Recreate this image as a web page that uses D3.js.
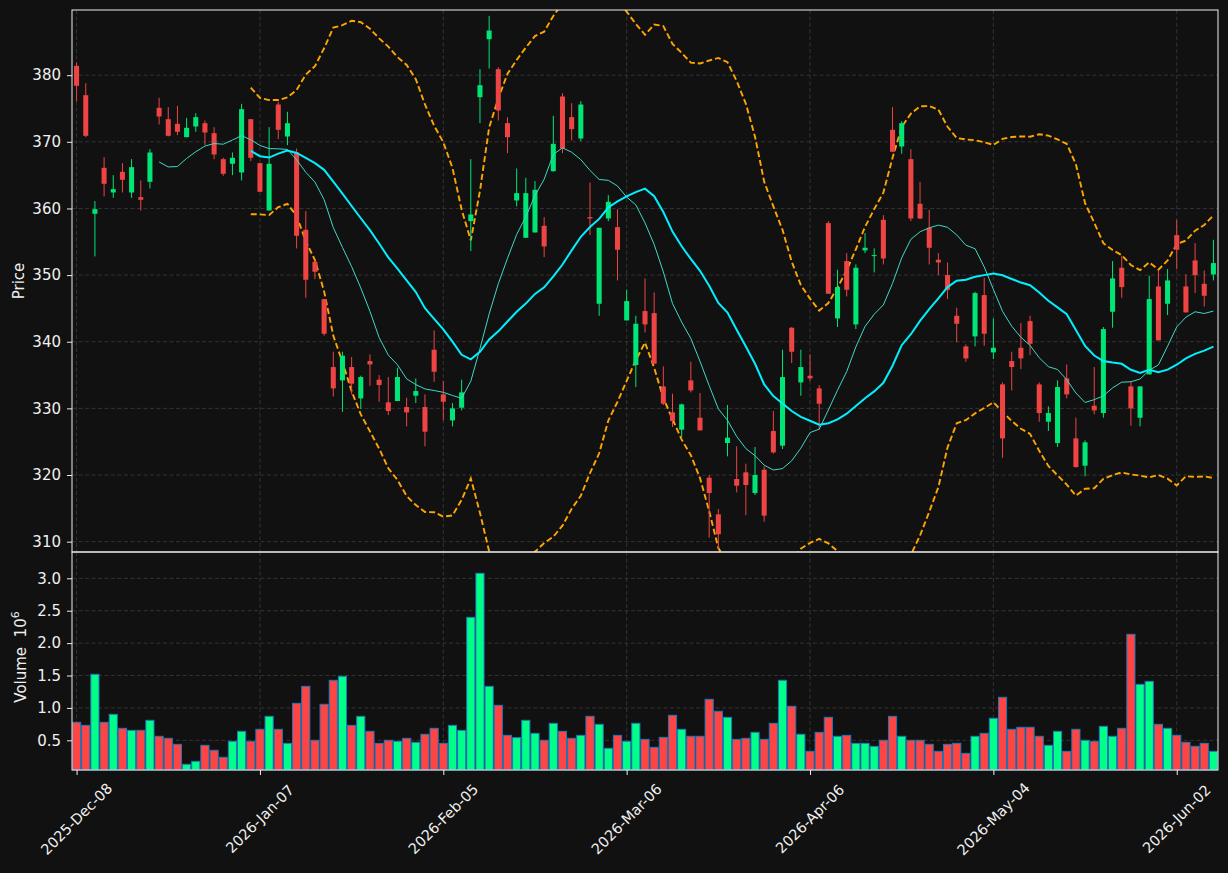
<!DOCTYPE html>
<html>
<head>
<meta charset="utf-8">
<script src="https://cdn.jsdelivr.net/npm/d3@7"></script>
<style>
  html, body { margin: 0; padding: 0; background: #111111; }
  svg { display: block; font-family: "DejaVu Sans", sans-serif; }
</style>
</head>
<body>
<script>
const width = 1228;
const height = 873;
const left = 72;
const right = 1218;
const priceTop = 10;
const priceBottom = 552;
const volBottom = 770;
const textColor = '#f0f0f0';
const gridColor = '#3c3c3c';
const upColor = '#00e676';
const downColor = '#ef4444';
const volUpColor = '#00ff88';
const volDownColor = '#ff4444';
const fontSize = 15;

// OHLC, one entry per trading day (index based x axis)
const opens = [
  381.4, 377.0, 359.2, 366.1, 362.4, 365.5, 362.4, 361.7, 364.0, 375.1,
  373.4, 372.7, 370.7, 372.3, 372.8, 371.3, 367.4, 366.7, 365.4, 373.4,
  366.8, 359.7, 375.6, 370.8, 368.4, 356.8, 352.0, 346.4, 336.2, 334.2,
  336.2, 331.5, 337.1, 334.3, 330.9, 331.1, 330.2, 331.9, 330.2, 338.8,
  332.1, 328.2, 330.1, 358.1, 376.7, 385.4, 380.9, 372.8, 361.2, 355.6,
  356.4, 357.4, 365.6, 376.8, 373.7, 370.5, 358.7, 345.7, 358.5, 357.2,
  343.2, 336.5, 344.6, 344.3, 333.3, 329.4, 326.8, 334.2, 328.6, 319.6,
  314.1, 324.8, 319.4, 320.4, 317.3, 320.8, 326.6, 324.4, 342.1, 333.9,
  334.9, 333.0, 357.8, 343.5, 352.1, 342.6, 353.7, 352.9, 358.3, 371.8,
  369.3, 367.4, 360.7, 357.1, 352.3, 350.0, 343.9, 339.3, 340.8, 347.0,
  338.4, 333.6, 337.1, 339.1, 343.1, 333.6, 328.0, 324.8, 334.5, 325.5,
  321.4, 330.4, 329.3, 344.5, 351.1, 333.3, 328.6, 335.1, 348.3, 345.7,
  356.0, 348.3, 352.2, 348.7, 350.1
];
const highs = [
  381.9, 378.8, 361.1, 367.7, 365.0, 366.8, 367.4, 364.2, 368.9, 376.6,
  375.2, 375.4, 373.6, 374.3, 373.2, 372.2, 367.6, 368.4, 375.7, 373.4,
  366.8, 372.2, 376.0, 374.5, 369.0, 359.6, 352.3, 346.4, 338.5, 338.5,
  337.7, 334.9, 338.1, 335.0, 334.7, 336.1, 331.6, 334.5, 332.1, 341.7,
  334.1, 330.8, 334.3, 367.4, 380.9, 388.9, 381.2, 373.7, 366.0, 364.6,
  364.1, 358.7, 373.9, 377.3, 375.8, 376.1, 363.9, 357.1, 362.0, 359.9,
  347.8, 343.9, 349.5, 347.4, 336.3, 332.2, 330.7, 337.0, 332.3, 320.0,
  314.9, 330.5, 324.3, 321.7, 324.2, 321.3, 329.6, 338.8, 342.2, 338.8,
  338.1, 333.5, 358.1, 350.8, 353.3, 351.6, 356.3, 354.0, 359.0, 375.2,
  373.1, 368.9, 364.0, 359.8, 353.3, 351.9, 345.1, 339.6, 347.5, 349.6,
  343.5, 333.9, 338.5, 342.8, 343.9, 333.9, 330.3, 334.2, 336.6, 328.6,
  325.2, 336.2, 342.2, 352.1, 352.9, 334.0, 333.3, 349.9, 350.7, 350.9,
  358.3, 350.1, 354.8, 350.7, 355.3
];
const lows = [
  376.1, 370.7, 352.8, 361.8, 361.6, 362.4, 361.6, 359.7, 363.0, 372.6,
  370.8, 371.0, 370.7, 371.5, 369.5, 367.4, 364.9, 365.0, 364.2, 367.1,
  362.5, 359.7, 370.4, 369.5, 354.0, 346.6, 349.4, 340.9, 331.8, 329.5,
  332.1, 329.9, 333.4, 331.0, 329.0, 331.1, 327.3, 330.8, 324.3, 334.0,
  328.2, 327.3, 329.7, 353.6, 372.8, 381.0, 373.2, 368.3, 360.3, 355.6,
  356.4, 352.7, 365.5, 368.3, 370.2, 370.1, 356.0, 343.9, 358.1, 349.2,
  343.2, 333.2, 341.4, 336.7, 330.5, 327.2, 325.7, 332.4, 326.7, 310.6,
  308.9, 322.8, 317.4, 314.0, 317.0, 313.0, 323.2, 323.9, 336.8, 331.9,
  334.1, 326.8, 347.2, 342.2, 346.8, 341.9, 353.3, 350.4, 351.6, 368.5,
  368.2, 358.1, 358.4, 351.6, 350.0, 346.4, 339.9, 337.0, 339.3, 339.4,
  337.4, 322.6, 332.7, 335.9, 338.0, 328.0, 326.6, 324.2, 331.5, 321.1,
  319.8, 329.1, 328.6, 342.1, 346.6, 327.4, 327.3, 335.1, 340.2, 344.0,
  350.9, 344.4, 347.3, 345.3, 349.2
];
const closes = [
  378.4, 370.9, 359.9, 363.7, 362.9, 364.3, 366.2, 361.3, 368.4, 373.8,
  370.9, 371.5, 372.1, 373.7, 371.4, 368.1, 365.2, 367.6, 374.9, 367.6,
  362.5, 366.7, 371.8, 372.8, 355.9, 349.3, 350.5, 341.2, 333.0, 337.9,
  333.7, 334.7, 336.6, 333.5, 329.6, 334.7, 329.4, 332.6, 326.5, 335.5,
  331.0, 330.0, 332.4, 359.1, 378.5, 386.7, 374.7, 370.7, 362.3, 362.3,
  362.8, 354.3, 369.7, 369.0, 371.9, 375.6, 358.5, 357.1, 361.0, 353.8,
  346.1, 342.7, 342.6, 336.7, 330.7, 328.1, 330.6, 332.7, 326.7, 317.3,
  311.1, 325.6, 318.4, 318.5, 320.0, 313.9, 323.4, 334.7, 338.5, 336.2,
  334.5, 330.7, 347.2, 348.2, 347.8, 351.1, 354.1, 353.0, 352.5, 368.5,
  372.8, 358.5, 358.5, 354.1, 351.9, 347.8, 342.7, 337.5, 347.3, 341.2,
  339.1, 325.5, 336.2, 337.5, 339.7, 329.3, 329.3, 333.2, 332.1, 321.2,
  324.9, 329.7, 341.9, 349.5, 348.2, 330.0, 333.3, 346.4, 340.2, 349.2,
  353.8, 344.4, 350.0, 346.9, 351.8
];
// volume in millions
const volumes = [
  0.778, 0.731, 1.519, 0.778, 0.901, 0.685, 0.654, 0.654, 0.809, 0.562,
  0.531, 0.438, 0.130, 0.176, 0.423, 0.346, 0.238, 0.485, 0.639, 0.485,
  0.670, 0.870, 0.670, 0.454, 1.071, 1.333, 0.500, 1.056, 1.426, 1.488,
  0.731, 0.870, 0.639, 0.454, 0.500, 0.485, 0.531, 0.469, 0.593, 0.685,
  0.454, 0.731, 0.654, 2.398, 3.077, 1.333, 1.040, 0.577, 0.541, 0.809,
  0.608, 0.500, 0.762, 0.639, 0.531, 0.577, 0.870, 0.747, 0.377, 0.577,
  0.485, 0.762, 0.515, 0.392, 0.546, 0.886, 0.670, 0.562, 0.562, 1.133,
  0.948, 0.855, 0.515, 0.531, 0.623, 0.515, 0.762, 1.426, 1.025, 0.593,
  0.330, 0.623, 0.855, 0.562, 0.577, 0.454, 0.454, 0.407, 0.500, 0.870,
  0.562, 0.500, 0.500, 0.438, 0.330, 0.438, 0.454, 0.299, 0.562, 0.608,
  0.840, 1.164, 0.670, 0.701, 0.701, 0.562, 0.423, 0.639, 0.330, 0.670,
  0.500, 0.485, 0.716, 0.562, 0.685, 2.136, 1.364, 1.410, 0.747, 0.685,
  0.577, 0.469, 0.407, 0.454, 0.330
];
const tickIndex = [0, 20, 40, 60, 80, 100, 120];
const tickLabels = ['2025-Dec-08', '2026-Jan-07', '2026-Feb-05', '2026-Mar-06',
                    '2026-Apr-06', '2026-May-04', '2026-Jun-02'];
const priceTicks = [310, 320, 330, 340, 350, 360, 370, 380];
const volumeTicks = [0.5, 1.0, 1.5, 2.0, 2.5, 3.0];

const candles = closes.map((c, i) => ({
  i: i, o: opens[i], h: highs[i], l: lows[i], c: c, v: volumes[i], up: c >= opens[i]
}));

// moving averages and bollinger bands derived from the closes
function rolling(n, fn) {
  const out = [];
  for (let i = n - 1; i < closes.length; i += 1) {
    out.push({ i: i, v: fn(closes.slice(i - n + 1, i + 1)) });
  }
  return out;
}
const popStd = w => d3.deviation(w) * Math.sqrt((w.length - 1) / w.length);
const ma10 = rolling(10, w => d3.mean(w));
const ma20 = rolling(20, w => d3.mean(w));
const bbUpper = rolling(20, w => d3.mean(w) + 2 * popStd(w));
const bbLower = rolling(20, w => d3.mean(w) - 2 * popStd(w));

const x = d3.scaleLinear().domain([-0.5, closes.length - 0.5]).range([left, right]);
const step = x(1) - x(0);
const yPrice = d3.scaleLinear().domain([308.45, 389.78]).range([priceBottom, priceTop]);
const yVol = d3.scaleLinear().domain([0.042, 3.406]).range([volBottom, priceBottom]);

const svg = d3.select('body')
  .append('svg')
  .attr('width', width)
  .attr('height', height);

svg.append('rect')
  .attr('width', width)
  .attr('height', height)
  .attr('fill', '#111111');

svg.append('defs')
  .append('clipPath').attr('id', 'clipPrice')
  .append('rect')
  .attr('x', left).attr('y', priceTop)
  .attr('width', right - left).attr('height', priceBottom - priceTop);

// grids
function drawGrid(g, yScale, ticks, top, bottom) {
  g.selectAll('line.h')
    .data(ticks)
    .enter()
    .append('line')
    .attr('x1', left).attr('x2', right)
    .attr('y1', d => yScale(d)).attr('y2', d => yScale(d))
    .attr('stroke', gridColor).attr('stroke-width', 0.8)
    .attr('stroke-dasharray', '4,2.5');
  g.selectAll('line.v')
    .data(tickIndex)
    .enter()
    .append('line')
    .attr('x1', d => x(d)).attr('x2', d => x(d))
    .attr('y1', top).attr('y2', bottom)
    .attr('stroke', gridColor).attr('stroke-width', 0.8)
    .attr('stroke-dasharray', '4,2.5');
}
drawGrid(svg.append('g'), yPrice, priceTicks, priceTop, priceBottom);
drawGrid(svg.append('g'), yVol, volumeTicks, priceBottom, volBottom);

// price panel
const pricePlot = svg.append('g').attr('clip-path', 'url(#clipPrice)');

const lineGen = d3.line().x(d => x(d.i)).y(d => yPrice(d.v));

[bbUpper, bbLower].forEach(band => {
  pricePlot.append('path')
    .datum(band)
    .attr('d', lineGen)
    .attr('fill', 'none')
    .attr('stroke', '#ffa500')
    .attr('stroke-width', 1.9)
    .attr('stroke-dasharray', '6,3');
});

pricePlot.selectAll('line.wick')
  .data(candles)
  .enter()
  .append('line')
  .attr('x1', d => x(d.i)).attr('x2', d => x(d.i))
  .attr('y1', d => yPrice(d.h)).attr('y2', d => yPrice(d.l))
  .attr('stroke', d => d.up ? upColor : downColor)
  .attr('stroke-width', 1);

const bodyW = step * 0.55;
pricePlot.selectAll('rect.body')
  .data(candles)
  .enter()
  .append('rect')
  .attr('x', d => x(d.i) - bodyW / 2)
  .attr('width', bodyW)
  .attr('y', d => yPrice(Math.max(d.o, d.c)))
  .attr('height', d => Math.max(1, Math.abs(yPrice(d.o) - yPrice(d.c))))
  .attr('fill', d => d.up ? upColor : downColor);

pricePlot.append('path')
  .datum(ma10)
  .attr('d', lineGen)
  .attr('fill', 'none')
  .attr('stroke', '#40d8c8')
  .attr('stroke-width', 1);

pricePlot.append('path')
  .datum(ma20)
  .attr('d', lineGen)
  .attr('fill', 'none')
  .attr('stroke', '#00f0ff')
  .attr('stroke-width', 2);

// volume panel
svg.selectAll('rect.vol')
  .data(candles)
  .enter()
  .append('rect')
  .attr('x', d => x(d.i - 0.5) + 0.5)
  .attr('width', step - 1)
  .attr('y', d => yVol(d.v))
  .attr('height', d => volBottom - yVol(d.v))
  .attr('fill', d => d.up ? volUpColor : volDownColor)
  .attr('stroke', '#2277bb')
  .attr('stroke-width', 1);

// axes
const gPrice = svg.append('g')
  .attr('transform', 'translate(' + left + ',0)')
  .call(d3.axisLeft(yPrice).tickValues(priceTicks).tickSize(5).tickPadding(6));

const gVol = svg.append('g')
  .attr('transform', 'translate(' + left + ',0)')
  .call(d3.axisLeft(yVol).tickValues(volumeTicks).tickSize(5).tickPadding(6)
    .tickFormat(d3.format('.1f')));

const gX = svg.append('g')
  .attr('transform', 'translate(0,' + volBottom + ')')
  .call(d3.axisBottom(x).tickValues(tickIndex).tickSize(5).tickFormat(''));

[gPrice, gVol, gX].forEach(g => {
  g.attr('font-size', fontSize).attr('font-family', '"DejaVu Sans", sans-serif');
  g.select('.domain').remove();
  g.selectAll('line').attr('stroke', textColor);
  g.selectAll('text').attr('fill', textColor);
});

svg.selectAll('text.xlabel')
  .data(tickIndex)
  .enter()
  .append('text')
  .attr('transform', d => 'translate(' + x(d) + ',819) rotate(-45)')
  .attr('text-anchor', 'middle')
  .attr('dominant-baseline', 'central')
  .attr('fill', textColor)
  .attr('font-size', 14.5)
  .text((d, k) => tickLabels[k]);

// panel frames
svg.append('rect')
  .attr('x', left).attr('y', priceTop)
  .attr('width', right - left).attr('height', priceBottom - priceTop)
  .attr('fill', 'none').attr('stroke', textColor).attr('stroke-width', 1);
svg.append('rect')
  .attr('x', left).attr('y', priceBottom)
  .attr('width', right - left).attr('height', volBottom - priceBottom)
  .attr('fill', 'none').attr('stroke', textColor).attr('stroke-width', 1);

// axis titles
svg.append('text')
  .attr('transform', 'translate(24,' + (priceTop + priceBottom) / 2 + ') rotate(-90)')
  .attr('text-anchor', 'middle')
  .attr('fill', textColor)
  .attr('font-size', fontSize)
  .text('Price');

const volTitle = svg.append('text')
  .attr('transform', 'translate(26,' + ((priceBottom + volBottom) / 2 - 4) + ') rotate(-90)')
  .attr('text-anchor', 'middle')
  .attr('fill', textColor)
  .attr('font-size', fontSize);
volTitle.append('tspan').text('Volume\u00a0\u00a010');
volTitle.append('tspan').attr('dy', -7).attr('font-size', 11).text('6');
</script>
</body>
</html>
